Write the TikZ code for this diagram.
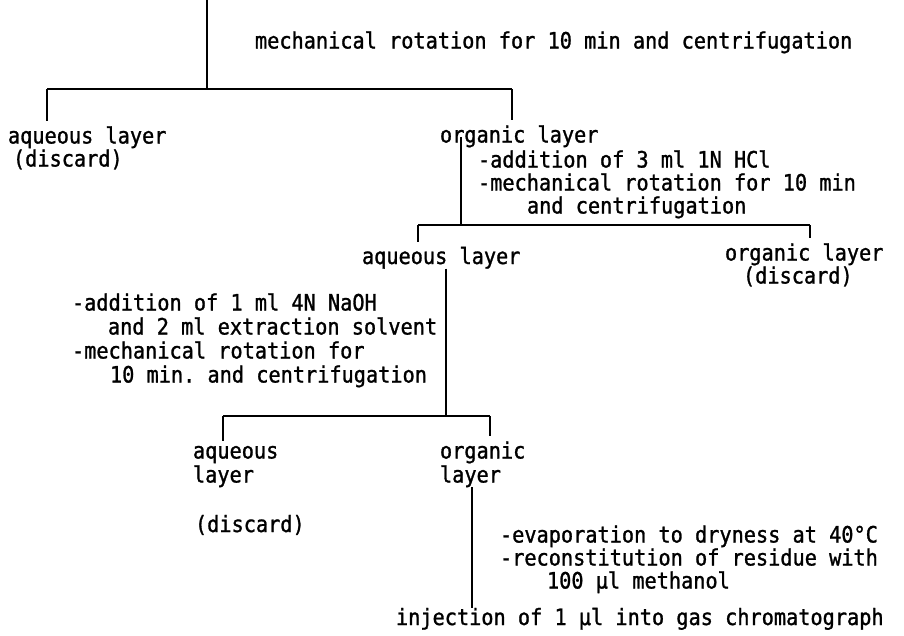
\documentclass[tikz,border=0pt]{standalone}
\usepackage{fontspec}
\setmonofont[FakeBold=1.2,FakeStretch=0.9]{DejaVu Sans Mono}
\usepackage{tikz}
\usetikzlibrary{calc}

\begin{document}
\begin{tikzpicture}[
    x=1pt,
    y=-1pt,
    font=\ttfamily\fontsize{22.5}{23}\selectfont,
    layertext/.style={
        anchor=base west,
        align=left,
        inner sep=0pt,
        outer sep=0pt
    },
    widetext/.style={
        layertext,
        font=\ttfamily\fontsize{22.5}{24}\selectfont
    },
    flowline/.style={
        line width=2.8pt,
        draw=black
    },
    dropline/.style={
        flowline,
        shorten >=5pt
    }
]
\useasboundingbox (0,0) rectangle (904,635);

% first extraction
\node[layertext] (spin1) at (255,48.5) {
    mechanical rotation for 10 min and centrifugation
};

\node[layertext] (aq1) at (8,166.5) {
    aqueous layer\\
    \hspace*{5pt}(discard)
};

\node[layertext] (org1) at (440,142.5) {
    organic layer
};

% back extraction into acid
\node[layertext] (hcl) at (478,213.5) {
    -addition of 3 ml 1N HCl\\
    -mechanical rotation for 10 min\\
    \hspace*{49pt}and centrifugation
};

\node[layertext] (aq2) at (362,264) {
    aqueous layer
};

\node[layertext] (org2) at (725,283.5) {
    organic layer\\
    \hspace*{18pt}(discard)
};

% alkaline extraction
\node[widetext] (naoh) at (72,382.5) {
    -addition of 1 ml 4N NaOH\\
    \hspace*{36pt}and 2 ml extraction solvent\\
    -mechanical rotation for\\
    \hspace*{38pt}10 min. and centrifugation
};

\node[widetext] (aq3) at (193,482.5) {
    aqueous\\
    layer
};

\node[widetext] (org3) at (440,482.5) {
    organic\\
    layer
};

\node[layertext] (disc3) at (195,532) {
    (discard)
};

% final step
\node[layertext] (evap) at (500,588.5) {
    -evaporation to dryness at 40°C\\
    -reconstitution of residue with\\
    \hspace*{47pt}100 µl methanol
};

\node[layertext] (inj) at (396,625) {
    injection of 1 µl into gas chromatograph
};

\coordinate (start) at (207,0);
\coordinate (fork1) at (207,89);
\coordinate (fork1l) at (47,89);
\coordinate (fork1r) at (512,89);
\coordinate (fork2) at (461,225);
\coordinate (fork2l) at (418,225);
\coordinate (fork2r) at (810,225);
\coordinate (fork3) at (446,416);
\coordinate (fork3l) at (223,416);
\coordinate (fork3r) at (490,416);
\coordinate (down4) at (472,500);

\draw[flowline] (start) -- (fork1);
\draw[flowline] (fork1l) -- (fork1r);
\draw[dropline] (fork1l) -- (fork1l |- aq1.north);
\draw[dropline] (fork1r) -- (fork1r |- org1.north);

\draw[flowline, shorten <=-10pt] (org1.south -| fork2) -- (fork2);
\draw[flowline] (fork2l) -- (fork2r);
\draw[dropline] (fork2l) -- (fork2l |- aq2.north);
\draw[dropline] (fork2r) -- (fork2r |- org2.north);

\draw[flowline] (aq2.south -| fork3) -- (fork3);
\draw[flowline] (fork3l) -- (fork3r);
\draw[dropline] (fork3l) -- (fork3l |- aq3.north);
\draw[dropline] (fork3r) -- (fork3r |- org3.north);

\draw[flowline] (org3.south -| down4) -- (inj.north -| down4);

\end{tikzpicture}
\end{document}
